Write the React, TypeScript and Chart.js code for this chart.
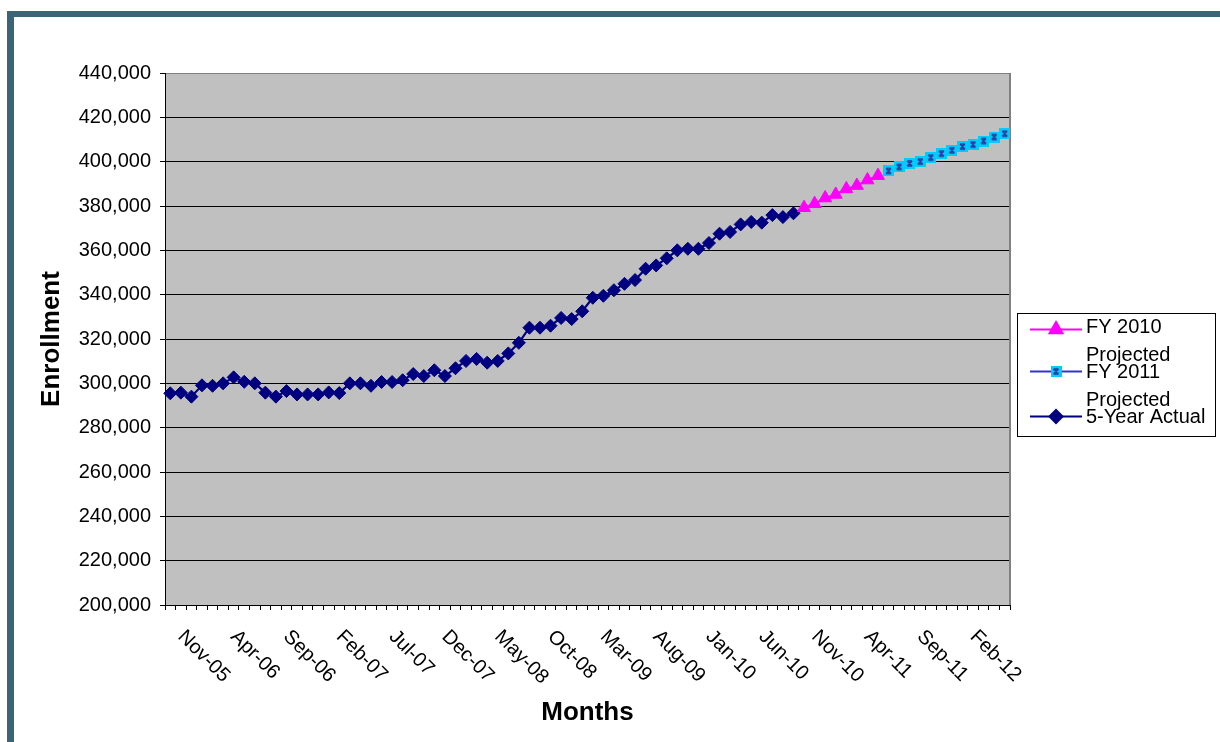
import { useEffect, useRef } from 'react';
import { Chart, registerables } from 'chart.js';
import { drawPoint } from 'chart.js/helpers';

Chart.register(...registerables);

const FONT_FAMILY = '"Liberation Sans", Arial, Helvetica, sans-serif';

// Monthly categories, Nov-05 through Jun-12
const months = [
  'Nov-05', 'Dec-05',
  'Jan-06', 'Feb-06', 'Mar-06', 'Apr-06', 'May-06', 'Jun-06', 'Jul-06', 'Aug-06', 'Sep-06', 'Oct-06', 'Nov-06', 'Dec-06',
  'Jan-07', 'Feb-07', 'Mar-07', 'Apr-07', 'May-07', 'Jun-07', 'Jul-07', 'Aug-07', 'Sep-07', 'Oct-07', 'Nov-07', 'Dec-07',
  'Jan-08', 'Feb-08', 'Mar-08', 'Apr-08', 'May-08', 'Jun-08', 'Jul-08', 'Aug-08', 'Sep-08', 'Oct-08', 'Nov-08', 'Dec-08',
  'Jan-09', 'Feb-09', 'Mar-09', 'Apr-09', 'May-09', 'Jun-09', 'Jul-09', 'Aug-09', 'Sep-09', 'Oct-09', 'Nov-09', 'Dec-09',
  'Jan-10', 'Feb-10', 'Mar-10', 'Apr-10', 'May-10', 'Jun-10', 'Jul-10', 'Aug-10', 'Sep-10', 'Oct-10', 'Nov-10', 'Dec-10',
  'Jan-11', 'Feb-11', 'Mar-11', 'Apr-11', 'May-11', 'Jun-11', 'Jul-11', 'Aug-11', 'Sep-11', 'Oct-11', 'Nov-11', 'Dec-11',
  'Jan-12', 'Feb-12', 'Mar-12', 'Apr-12', 'May-12', 'Jun-12',
];

// A month label is printed every fifth category
const labelEvery = 5;

// Actual enrollment, Nov-05 .. Oct-10
const actual5Year = [
  295500, 295800, 294000, 299100, 298900, 300000, 302700, 300700, 300000, 295800,
  294000, 296500, 295000, 295000, 295000, 295900, 295600, 300000, 300000, 298900,
  300600, 300600, 301400, 304200, 303300, 305900, 303300, 306800, 310100, 311000,
  309300, 310100, 313500, 318300, 325100, 325100, 326000, 329500, 329000, 332500,
  338600, 339500, 342000, 344900, 346600, 351700, 353200, 356400, 360000, 360700,
  360700, 363300, 367500, 368300, 371700, 372800, 372500, 375900, 375000, 376700,
];

// FY 2010 projection, Nov-10 .. Jun-11
const fy2010Projected = [379200, 381000, 383600, 385200, 387700, 389200, 391700, 393700];

// FY 2011 projection, Jul-11 .. Jun-12
const fy2011Projected = [
  395800, 397600, 399200, 400000, 401800, 403600, 405100, 406800, 407700, 409300, 411100, 412600,
];

const yMin = 200000;
const yMax = 440000;
const yStep = 20000;

const legendLabels = [['FY 2010', 'Projected'], ['FY 2011', 'Projected'], ['5-Year Actual']];

// Place a series at its own run of months, leaving the rest empty
function placeSeries(values: number[], start: number): (number | null)[] {
  const out: (number | null)[] = months.map(() => null);
  values.forEach((v, i) => {
    out[start + i] = v;
  });
  return out;
}

// Cyan square marker with a small dark star in it
function makeStarSquare(): HTMLCanvasElement {
  const c = document.createElement('canvas');
  c.width = 11;
  c.height = 11;
  const g = c.getContext('2d')!;
  g.fillStyle = '#00CCFF';
  g.fillRect(0, 0, 11, 11);
  g.strokeStyle = '#333399';
  g.lineWidth = 1.4;
  g.beginPath();
  g.moveTo(3, 3);
  g.lineTo(8, 8);
  g.moveTo(8, 3);
  g.lineTo(3, 8);
  g.moveTo(3, 3);
  g.lineTo(8, 3);
  g.moveTo(3, 8);
  g.lineTo(8, 8);
  g.stroke();
  return c;
}

export default function App() {
  const canvasRef = useRef<HTMLCanvasElement | null>(null);

  useEffect(() => {
    const canvas = canvasRef.current;
    if (!canvas) return;

    const starSquare = makeStarSquare();

    const seriesStyles = [
      { color: '#FF00FF', pointStyle: 'triangle' as any, radius: 7.5 },
      { color: '#3333CC', pointStyle: starSquare as any, radius: 6 },
      { color: '#000080', pointStyle: 'rectRot' as any, radius: 6.5 },
    ];

    const plotFrame = {
      id: 'plotFrame',
      beforeDraw(chart: any) {
        const { ctx, chartArea: a } = chart;
        ctx.save();
        ctx.fillStyle = '#C0C0C0';
        ctx.fillRect(a.left, a.top, a.right - a.left, a.bottom - a.top);
        ctx.restore();
      },
      beforeDatasetsDraw(chart: any) {
        const { ctx, chartArea: a } = chart;
        ctx.save();
        ctx.strokeStyle = '#808080';
        ctx.lineWidth = 1;
        ctx.beginPath();
        ctx.moveTo(a.left + 1, Math.round(a.top) + 0.5);
        ctx.lineTo(a.right, Math.round(a.top) + 0.5);
        ctx.stroke();
        ctx.lineWidth = 2;
        ctx.beginPath();
        ctx.moveTo(a.right, a.top);
        ctx.lineTo(a.right, a.bottom);
        ctx.stroke();
        ctx.restore();
      },
    };

    // Month labels slanting down to the right under the category axis
    const slantedMonths = {
      id: 'slantedMonths',
      afterDraw(chart: any) {
        const { ctx } = chart;
        const x = chart.scales.x;
        ctx.save();
        ctx.font = `20px ${FONT_FAMILY}`;
        ctx.fillStyle = '#000000';
        ctx.textAlign = 'left';
        ctx.textBaseline = 'middle';
        months.forEach((m, i) => {
          if (i % labelEvery !== 0) return;
          const px = x.getPixelForValue(i);
          ctx.save();
          ctx.translate(px + 10.6, x.top + 28.6);
          ctx.rotate(Math.PI / 4);
          ctx.fillText(m, 0, 0);
          ctx.restore();
        });
        ctx.restore();
      },
    };

    // Boxed legend to the right of the plot
    const sideLegend = {
      id: 'sideLegend',
      afterDraw(chart: any) {
        const { ctx } = chart;
        const box = { left: 1017.5, top: 313.5, right: 1215.5, bottom: 436.5 };
        const rows = [
          { lineY: 329.5, baselines: [333.2, 360.9] },
          { lineY: 371.5, baselines: [377.5, 406] },
          { lineY: 416.5, baselines: [422.7] },
        ];
        ctx.save();
        ctx.fillStyle = '#FFFFFF';
        ctx.fillRect(box.left, box.top, box.right - box.left, box.bottom - box.top);
        ctx.strokeStyle = '#000000';
        ctx.lineWidth = 1;
        ctx.strokeRect(box.left, box.top, box.right - box.left, box.bottom - box.top);

        rows.forEach((row, i) => {
          const st = seriesStyles[i];
          ctx.strokeStyle = st.color;
          ctx.lineWidth = 2;
          ctx.beginPath();
          ctx.moveTo(1030, row.lineY);
          ctx.lineTo(1082, row.lineY);
          ctx.stroke();
          ctx.fillStyle = st.color;
          ctx.strokeStyle = st.color;
          drawPoint(ctx, { pointStyle: st.pointStyle, rotation: 0, radius: st.radius, borderWidth: 1 } as any, 1056, row.lineY);
          ctx.fillStyle = '#000000';
          ctx.font = `20px ${FONT_FAMILY}`;
          ctx.textAlign = 'left';
          ctx.textBaseline = 'alphabetic';
          legendLabels[i].forEach((t, j) => {
            ctx.fillText(t, 1086, row.baselines[j]);
          });
        });
        ctx.restore();
      },
    };

    const chart = new Chart(canvas, {
      type: 'line',
      data: {
        labels: months,
        datasets: [
          {
            label: legendLabels[0].join(' '),
            data: placeSeries(fy2010Projected, actual5Year.length),
            borderColor: seriesStyles[0].color,
            backgroundColor: seriesStyles[0].color,
            borderWidth: 2,
            pointStyle: seriesStyles[0].pointStyle,
            pointRadius: seriesStyles[0].radius,
            pointBorderWidth: 1,
            spanGaps: false,
          },
          {
            label: legendLabels[1].join(' '),
            data: placeSeries(fy2011Projected, actual5Year.length + fy2010Projected.length),
            borderColor: seriesStyles[1].color,
            backgroundColor: seriesStyles[1].color,
            borderWidth: 2,
            pointStyle: seriesStyles[1].pointStyle,
            pointRadius: seriesStyles[1].radius,
            spanGaps: false,
          },
          {
            label: legendLabels[2][0],
            data: placeSeries(actual5Year, 0),
            borderColor: seriesStyles[2].color,
            backgroundColor: seriesStyles[2].color,
            borderWidth: 2.2,
            pointStyle: seriesStyles[2].pointStyle,
            pointRadius: seriesStyles[2].radius,
            pointBorderWidth: 1,
            spanGaps: false,
          },
        ],
      },
      options: {
        responsive: false,
        maintainAspectRatio: false,
        devicePixelRatio: 1,
        animation: false,
        events: [],
        layout: { padding: { left: 0, top: 73, right: 210, bottom: 0 } },
        plugins: {
          legend: { display: false },
          tooltip: { enabled: false },
          title: { display: false },
        },
        elements: { line: { tension: 0 } },
        scales: {
          x: {
            type: 'category',
            offset: true,
            afterFit: (scale: any) => {
              scale.height = 137;
            },
            grid: {
              display: true,
              drawOnChartArea: false,
              drawTicks: true,
              tickLength: 5,
              color: '#000000',
              offset: true,
            },
            border: { display: true, color: '#000000', width: 1 },
            ticks: {
              autoSkip: false,
              maxRotation: 0,
              minRotation: 0,
              callback: () => '',
            },
            title: {
              display: true,
              text: 'Months',
              color: '#000000',
              font: { family: FONT_FAMILY, size: 26, weight: 'bold' },
              padding: { top: 0, bottom: 14 },
            },
          },
          y: {
            type: 'linear',
            min: yMin,
            max: yMax,
            afterFit: (scale: any) => {
              scale.width = 165;
            },
            grid: {
              display: true,
              drawOnChartArea: true,
              drawTicks: true,
              tickLength: 5,
              color: '#000000',
              lineWidth: 1,
            },
            border: { display: true, color: '#000000', width: 1 },
            ticks: {
              stepSize: yStep,
              padding: 9,
              color: '#000000',
              font: { family: FONT_FAMILY, size: 20 },
              callback: (v: any) => Number(v).toLocaleString('en-US'),
            },
            title: {
              display: true,
              text: 'Enrollment',
              color: '#000000',
              font: { family: FONT_FAMILY, size: 26, weight: 'bold' },
              padding: { top: 36, bottom: 0 },
            },
          },
        },
      },
      plugins: [plotFrame, slantedMonths, sideLegend],
    } as any);

    return () => {
      chart.destroy();
    };
  }, []);

  return (
    <div
      style={{
        position: 'fixed',
        left: 0,
        top: 0,
        width: 1220,
        height: 742,
        background: '#FFFFFF',
        overflow: 'hidden',
      }}
    >
      <div
        style={{
          position: 'absolute',
          left: 7,
          top: 11,
          width: 1300,
          height: 800,
          borderTop: '6px solid #3B6478',
          borderLeft: '7px solid #3B6478',
        }}
      />
      <canvas
        ref={canvasRef}
        width={1220}
        height={742}
        style={{ position: 'absolute', left: 0, top: 0, width: 1220, height: 742 }}
      />
    </div>
  );
}
